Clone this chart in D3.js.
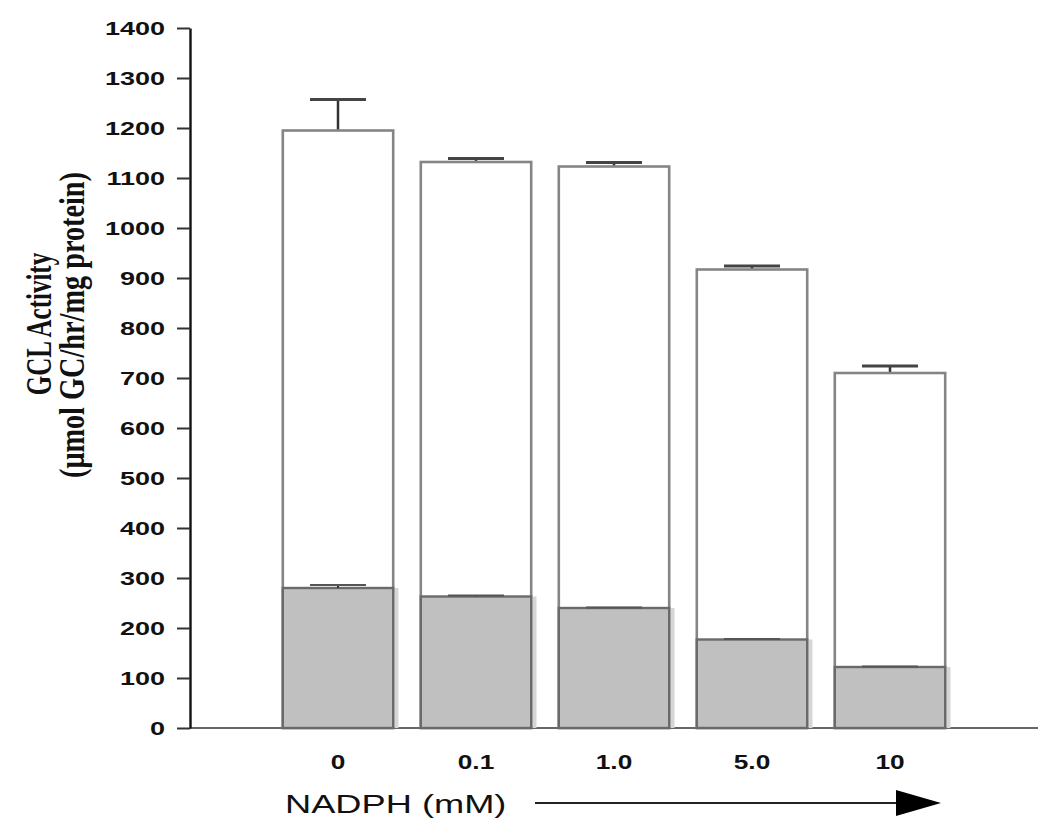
<!DOCTYPE html>
<html>
<head>
<meta charset="utf-8">
<script src="https://cdn.jsdelivr.net/npm/d3@7"></script>
<style>
  html, body { margin: 0; padding: 0; background: #fff; }
  svg { display: block; }
</style>
</head>
<body>
<svg id="chart" width="1050" height="829"></svg>
<script>
// ---- data ----
const categories = ["0", "0.1", "1.0", "5.0", "10"];
const totalValues = [1195, 1132, 1123, 917, 710];
const totalErrors = [1257, 1139, 1131, 924, 724];
const baseValues = [280, 263, 240, 177, 122];
const baseErrors = [286, 265, 241, 178, 123];
const yTicks = [0, 100, 200, 300, 400, 500, 600, 700, 800, 900, 1000, 1100, 1200, 1300, 1400];

const svg = d3.select("#chart");
const y = d3.scaleLinear().domain([0, 1400]).range([728, 28]);
const x = d3.scaleBand().domain(categories).range([269, 959]).paddingInner(0.2).paddingOuter(0.1);
const axisX = 190;

// x baseline
svg.append("line").attr("x1", axisX).attr("x2", 1038).attr("y1", y(0)).attr("y2", y(0))
  .attr("stroke", "#666").attr("stroke-width", 2);

const bw = x.bandwidth();
const rows = categories.map((c, i) => ({c, t: totalValues[i], te: totalErrors[i], b: baseValues[i], be: baseErrors[i]}));

// error bars for totals
const capW = 56;
rows.forEach(d => {
  const cx = x(d.c) + bw / 2;
  svg.append("line").attr("x1", cx).attr("x2", cx).attr("y1", y(d.t)).attr("y2", y(d.te))
    .attr("stroke", "#333").attr("stroke-width", 2.5);
  svg.append("line").attr("x1", cx - capW / 2).attr("x2", cx + capW / 2).attr("y1", y(d.te)).attr("y2", y(d.te))
    .attr("stroke", "#444").attr("stroke-width", 3);
});

// white total bars
svg.selectAll("rect.total").data(rows).join("rect").attr("class", "total")
  .attr("x", d => x(d.c)).attr("width", bw)
  .attr("y", d => y(d.t)).attr("height", d => y(0) - y(d.t))
  .attr("fill", "#fff").attr("stroke", "#858585").attr("stroke-width", 2.6);

// light shadow to right of gray part
svg.selectAll("rect.shadow").data(rows).join("rect").attr("class", "shadow")
  .attr("x", d => x(d.c) + bw + 1.3).attr("width", 4)
  .attr("y", d => y(d.b)).attr("height", d => y(0) - y(d.b))
  .attr("fill", "#d6d6d6");

// gray base bars
svg.selectAll("rect.base").data(rows).join("rect").attr("class", "base")
  .attr("x", d => x(d.c)).attr("width", bw)
  .attr("y", d => y(d.b)).attr("height", d => y(0) - y(d.b))
  .attr("fill", "#c0c0c0").attr("stroke", "#6a6a6a").attr("stroke-width", 2.4);

// base error caps
rows.forEach(d => {
  const cx = x(d.c) + bw / 2;
  svg.append("line").attr("x1", cx).attr("x2", cx).attr("y1", y(d.b)).attr("y2", y(d.be))
    .attr("stroke", "#333").attr("stroke-width", 2);
  svg.append("line").attr("x1", cx - capW / 2).attr("x2", cx + capW / 2).attr("y1", y(d.be)).attr("y2", y(d.be))
    .attr("stroke", "#555").attr("stroke-width", 2.2);
});

// y axis
const gy = svg.append("g").attr("transform", `translate(${axisX},0)`)
  .call(d3.axisLeft(y).tickValues(yTicks).tickSize(13).tickSizeOuter(0).tickFormat(d3.format("d")));
gy.select(".domain").attr("stroke", "#111").attr("stroke-width", 2.4);
gy.selectAll(".tick line").attr("stroke", "#333").attr("stroke-width", 2);
gy.selectAll(".tick text")
  .attr("x", null).attr("dy", null)
  .attr("transform", "translate(-25,6.5) scale(1.5,1)")
  .attr("text-anchor", "end")
  .style("font-family", "'Liberation Sans', Arial, sans-serif")
  .style("font-weight", "bold").style("font-size", "18px").attr("fill", "#111");

// x tick labels
const gx = svg.append("g").attr("transform", `translate(0,${y(0)})`)
  .call(d3.axisBottom(x).tickSize(0).tickPadding(0));
gx.select(".domain").remove();
gx.selectAll(".tick text")
  .attr("y", null).attr("dy", null)
  .attr("transform", "translate(0,41) scale(1.25,1)")
  .attr("text-anchor", "middle")
  .style("font-family", "'Liberation Sans', Arial, sans-serif")
  .style("font-weight", "bold").style("font-size", "21px").attr("fill", "#111");

// x axis title
svg.append("text")
  .attr("transform", "translate(285,813) scale(1.45,1)")
  .style("font-family", "'Liberation Sans', Arial, sans-serif")
  .style("font-size", "25px").attr("fill", "#111")
  .text("NADPH (mM)");

// arrow
svg.append("line").attr("x1", 535).attr("x2", 900).attr("y1", 803).attr("y2", 803)
  .attr("stroke", "#222").attr("stroke-width", 2);
svg.append("path").attr("d", "M896,790 L941,803 L896,816 Z").attr("fill", "#000");

// y axis title
svg.append("text")
  .attr("transform", "translate(51,324) scale(1.4,1) rotate(-90)")
  .attr("text-anchor", "middle")
  .style("font-family", "'Liberation Serif', 'Times New Roman', serif")
  .style("font-weight", "bold").style("font-size", "25px").attr("fill", "#111")
  .text("GCL Activity");
svg.append("text")
  .attr("transform", "translate(84,325) scale(1.35,1) rotate(-90)")
  .attr("text-anchor", "middle")
  .attr("textLength", 306).attr("lengthAdjust", "spacingAndGlyphs")
  .style("font-family", "'Liberation Serif', 'Times New Roman', serif")
  .style("font-weight", "bold").style("font-size", "26px").attr("fill", "#111")
  .text("(\u03bcmol GC/hr/mg protein)");
</script>
</body>
</html>
